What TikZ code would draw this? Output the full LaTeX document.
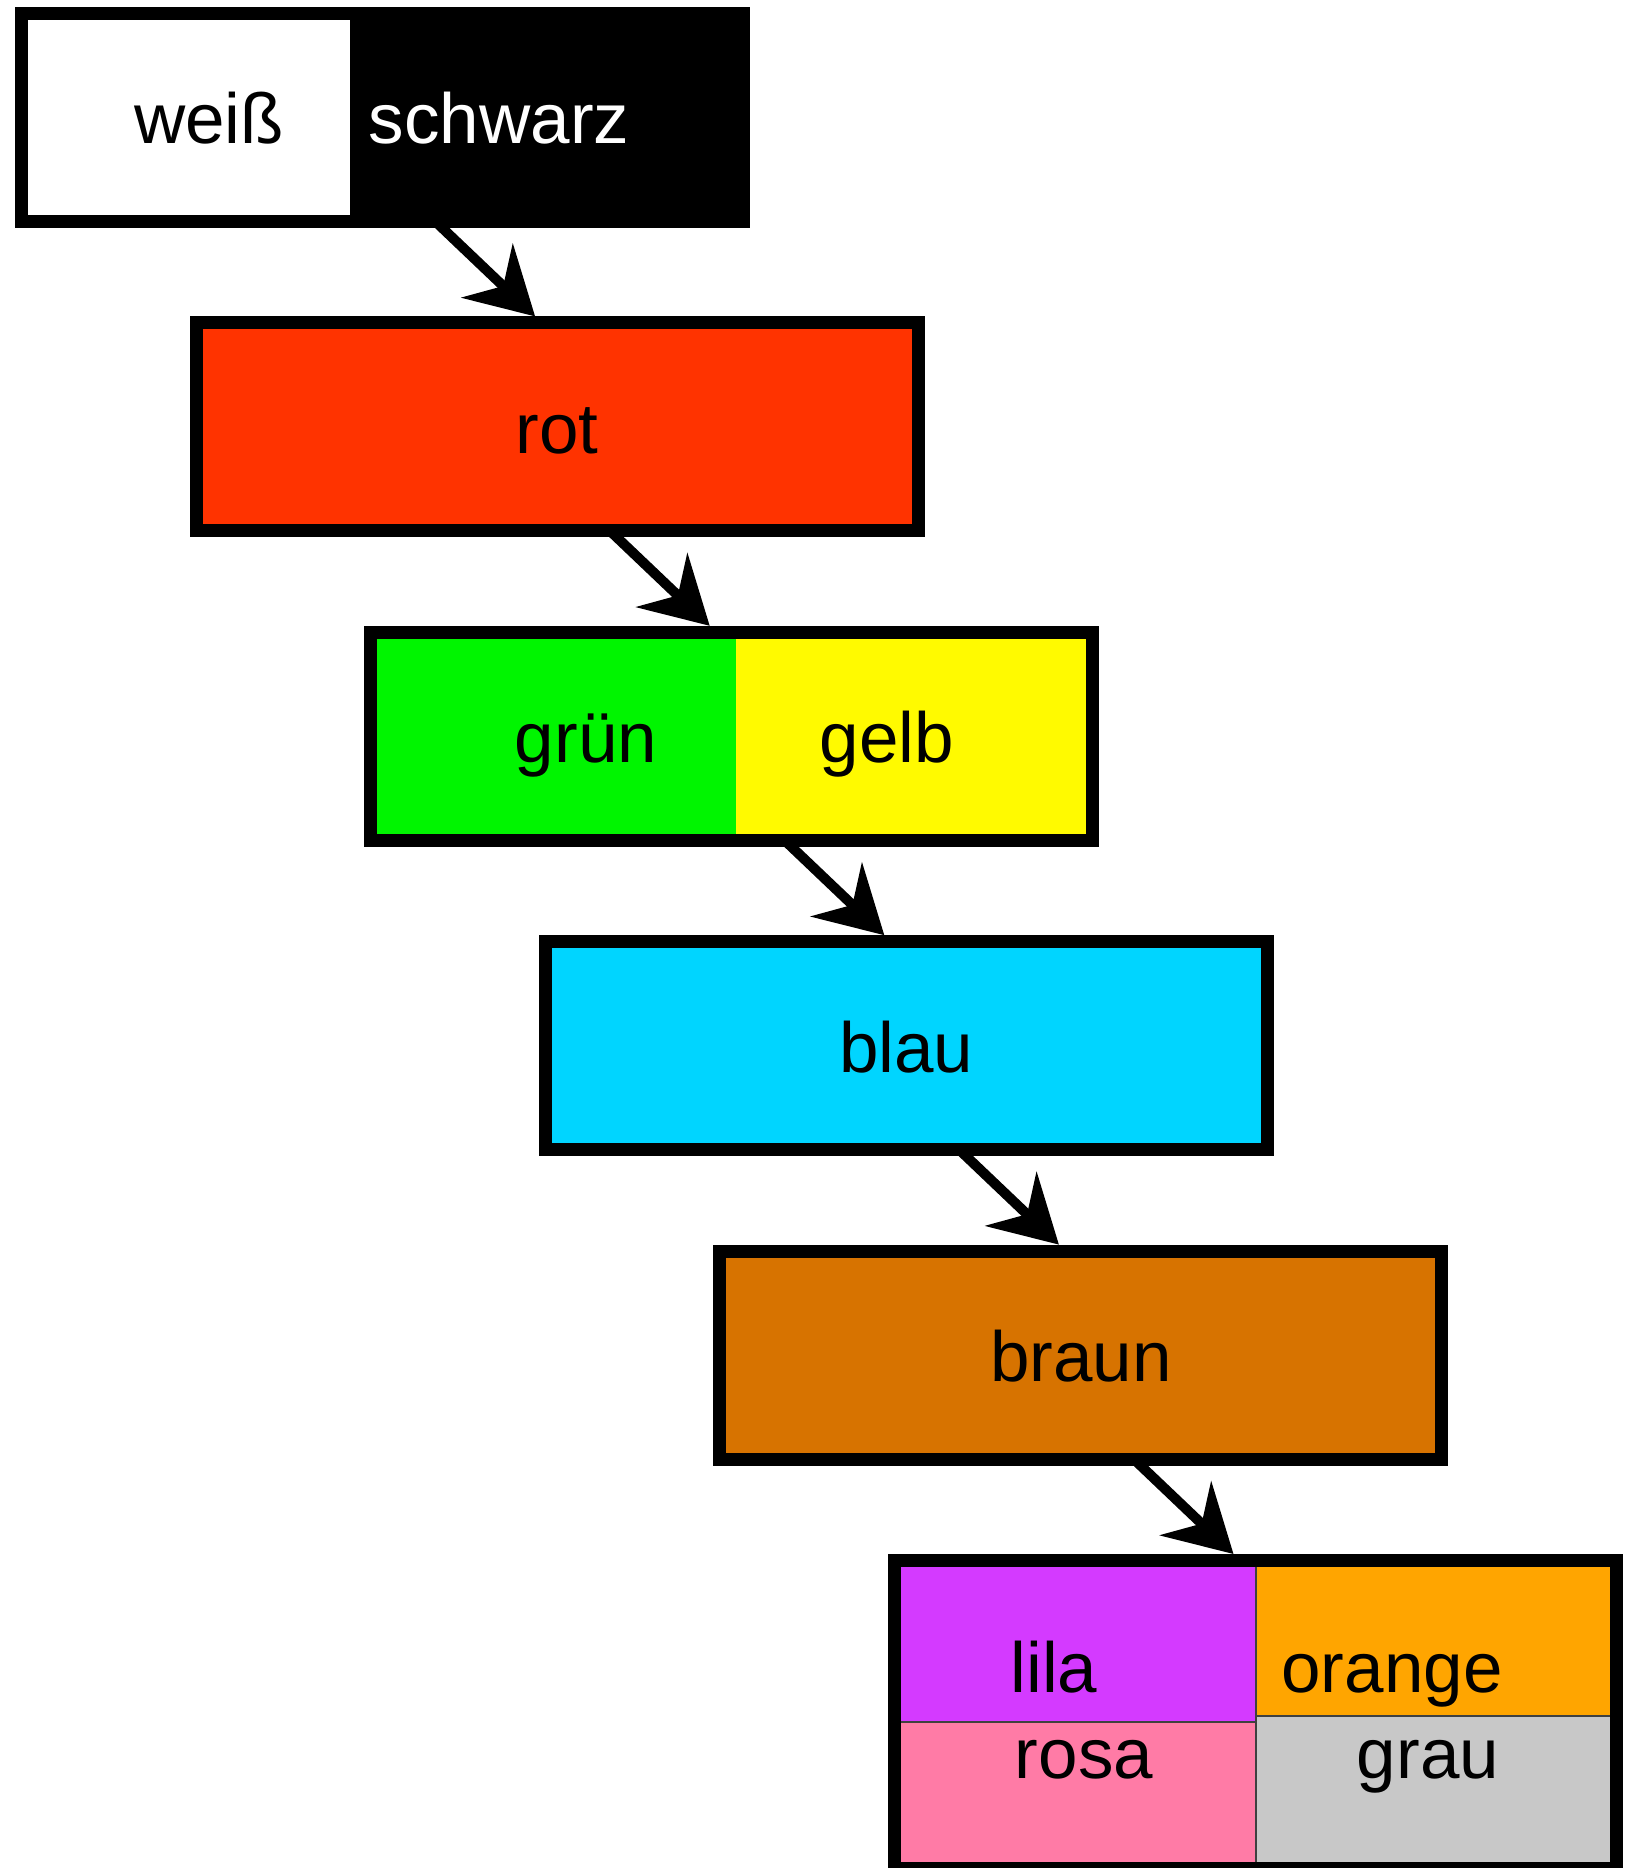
\documentclass[tikz,border=0pt]{standalone}
\usepackage{fontspec}
\setmainfont{Liberation Sans}
\usetikzlibrary{arrows.meta}
\definecolor{rotc}{HTML}{FF3300}
\definecolor{gruenc}{HTML}{00F500}
\definecolor{gelbc}{HTML}{FFFA00}
\definecolor{blauc}{HTML}{00D5FF}
\definecolor{braunc}{HTML}{D77300}
\definecolor{lilac}{HTML}{D43AFF}
\definecolor{orangec}{HTML}{FFA500}
\definecolor{rosac}{HTML}{FF7BA6}
\definecolor{grauc}{HTML}{C8C8C8}
\begin{document}
\begin{tikzpicture}[x=1pt,y=-1pt,
  box/.style={draw=black,line width=13pt,minimum width=722pt,minimum height=208pt,inner sep=0pt,outer sep=6.5pt},
  lbl/.style={anchor=base,inner sep=0pt,font=\fontsize{71}{85}\selectfont},
  conn/.style={line width=10pt,-{Stealth[length=66pt,width=74pt,inset=22pt]}},
  divider/.style={line width=2pt,draw=black!75}
]
\useasboundingbox (0,0) rectangle (1635,1868);
\fill[white] (0,0) rectangle (1635,1868);

% box 1: weiss / schwarz
\node[box,fill=black] (b1) at (382.5,117.5) {};
\fill[white] (28,20) rectangle (350,215);
\node[lbl,text=black] (t1a) at (209,143.5) {weiß};
\node[lbl,text=white] (t1b) at (499,143.5) {schwarz};

% box 2: rot
\node[box,fill=rotc] (b2) at (557.1,426.9) {};
\node[lbl] (t2) at (557.1,453) {rot};

% box 3: gruen / gelb
\fill[gruenc] (377.2,638.8) rectangle (736,833.8);
\fill[gelbc] (736,638.8) rectangle (1086.2,833.8);
\node[box] (b3) at (731.7,736.3) {};
\node[lbl] (t3a) at (586,762) {grün};
\node[lbl] (t3b) at (887,762) {gelb};

% box 4: blau
\node[box,fill=blauc] (b4) at (906.3,1045.7) {};
\node[lbl] (t4) at (906.3,1072) {blau};

% box 5: braun
\node[box,fill=braunc] (b5) at (1080.9,1355.1) {};
\node[lbl] (t5) at (1081,1381) {braun};

% box 6: lila / orange / rosa / grau
\fill[lilac] (901,1567) rectangle (1255.5,1722);
\fill[rosac] (901,1722) rectangle (1255.5,1868);
\fill[orangec] (1255.5,1567) rectangle (1611,1716);
\fill[grauc] (1255.5,1716) rectangle (1611,1868);
\draw[divider] (1255.5,1567) -- (1255.5,1868);
\draw[divider] (901,1722) -- (1255.5,1722);
\draw[divider] (1255.5,1716) -- (1611,1716);
\node[box,minimum height=308pt] (b6) at (1255.5,1714.5) {};
\node[lbl] (t6a) at (1054,1692) {lila};
\node[lbl] (t6b) at (1392,1692) {orange};
\node[lbl] (t6c) at (1084,1778) {rosa};
\node[lbl] (t6d) at (1428,1778) {grau};

% connectors
\foreach \a/\b in {b1/b2,b2/b3,b3/b4,b4/b5,b5/b6}
  \draw[conn] ([xshift=54.5pt,yshift=5pt]\a.south) -- ([xshift=-22pt]\b.north);
\end{tikzpicture}
\end{document}
